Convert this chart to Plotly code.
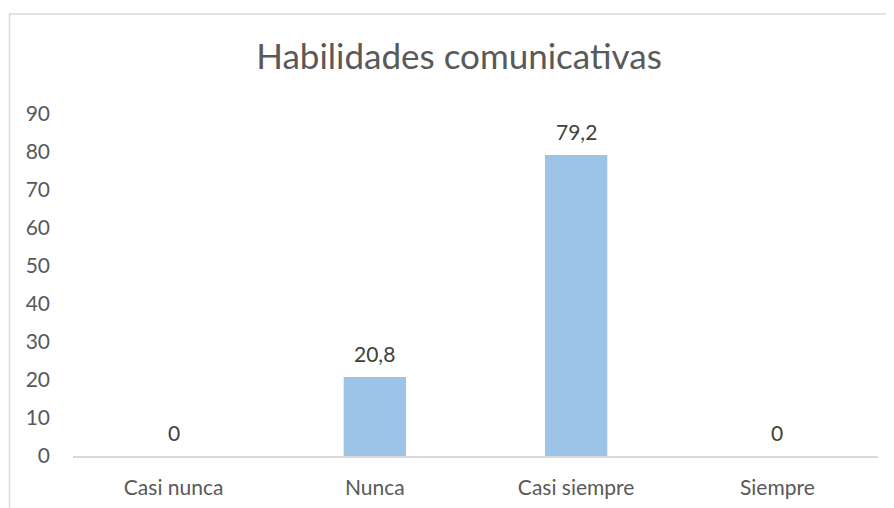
import plotly.graph_objects as go

categories = ["Casi nunca", "Nunca", "Casi siempre", "Siempre"]
values = [0, 20.8, 79.2, 0]
y_ticks = [0, 10, 20, 30, 40, 50, 60, 70, 80, 90]
title_text = "Habilidades comunicativas"

labels = [f"{v:g}".replace(".", ",") for v in values]

FONT = "Lato, 'Open Sans', sans-serif"

# page body has an 8px margin; layout is compensated for it
W, H = 886, 500
L, T = 65, 106
PW, PH = 805, 342

fig = go.Figure()
fig.add_trace(go.Bar(
    x=categories, y=values,
    marker=dict(color="#9dc3e6", line=dict(width=0)),
    hoverinfo="x+y",
))

for c, v, t in zip(categories, values, labels):
    fig.add_annotation(
        x=c, y=v, text=t, showarrow=False, yanchor="bottom", yshift=9,
        font=dict(family=FONT, size=21, color="#404040"),
    )

# chart border (outer frame, light grey)
fig.add_shape(type="rect", xref="paper", yref="paper",
              x0=-(L - 1.5) / PW, x1=1.2, y0=-0.4, y1=1 + (T - 6) / PH,
              line=dict(color="#d9d9d9", width=1.5), fillcolor="rgba(0,0,0,0)",
              layer="below")

fig.update_layout(
    width=W, height=H,
    margin=dict(l=L, r=W - L - PW, t=T, b=H - T - PH, autoexpand=False),
    paper_bgcolor="white", plot_bgcolor="white",
    bargap=0.69,
    showlegend=False,
    title=dict(text=title_text, x=451 / W, xref="container", xanchor="center",
               y=1 - 48.5 / H, yanchor="middle",
               font=dict(family=FONT, size=35, color="#595959")),
    font=dict(family=FONT, size=21, color="#595959"),
    xaxis=dict(showgrid=False, zeroline=False, showline=True,
               linecolor="#d9d9d9", linewidth=2, ticks="",
               automargin=False, ticklabelstandoff=12,
               tickfont=dict(family=FONT, size=21, color="#595959")),
    yaxis=dict(range=[0, 90], tickvals=y_ticks, showgrid=False,
               zeroline=False, showline=False, ticks="",
               automargin=False, ticklabelstandoff=22,
               tickfont=dict(family=FONT, size=21, color="#595959")),
)

fig.write_html("out.html")
